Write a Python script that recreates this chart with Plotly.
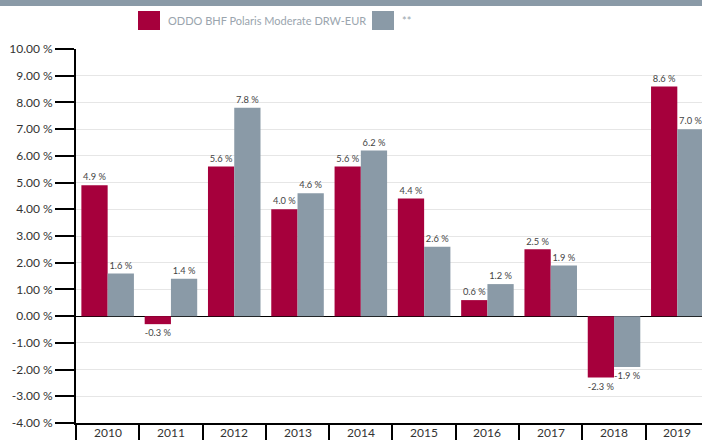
import plotly.graph_objects as go

years = ["2010", "2011", "2012", "2013", "2014", "2015", "2016", "2017", "2018", "2019"]
fund = [4.9, -0.3, 5.6, 4.0, 5.6, 4.4, 0.6, 2.5, -2.3, 8.6]
bench = [1.6, 1.4, 7.8, 4.6, 6.2, 2.6, 1.2, 1.9, -1.9, 7.0]
series_names = ["ODDO BHF Polaris Moderate DRW-EUR", "**"]
colors = ["#a6003c", "#8a9aa7"]
ytick_vals = [-4, -3, -2, -1, 0, 1, 2, 3, 4, 5, 6, 7, 8, 9, 10]

W, H = 702, 440
ML, MT, MB = 76, 49, 17

fig = go.Figure()
for name, vals, col in zip(series_names, [fund, bench], colors):
    fig.add_trace(go.Bar(
        x=years, y=vals, name=name, marker=dict(color=col, line=dict(width=0)),
        text=[f"{v:.1f} %" for v in vals], textposition="outside",
        textfont=dict(size=10, color="#444", family="Lato"),
        cliponaxis=False, showlegend=False,
    ))

fig.update_layout(
    width=W, height=H, margin=dict(l=ML, r=0, t=MT, b=MB),
    paper_bgcolor="white", plot_bgcolor="white",
    barmode="group", bargap=0.17, bargroupgap=0,
    font=dict(family="Lato", color="#333"),
    uniformtext=dict(minsize=9, mode="show"),
)
fig.update_yaxes(
    range=[-4, 10], tickvals=ytick_vals,
    ticktext=[f"{v:.2f} %" for v in ytick_vals],
    ticks="outside", ticklen=19, tickwidth=2, tickcolor="black",
    showline=True, linecolor="black", linewidth=2,
    showgrid=True, gridcolor="#e6e6e6", gridwidth=1,
    zeroline=True, zerolinecolor="black", zerolinewidth=1,
    tickfont=dict(size=12, color="#333", family="Lato"),
)
fig.update_xaxes(
    range=[-0.5, 9.39], type="category",
    ticks="outside", tickson="boundaries", ticklen=MB, tickwidth=2, tickcolor="black",
    showline=True, linecolor="black", linewidth=2, showticklabels=False,
    showgrid=False,
)

def px_x(px):
    return (px - ML) / (W - ML)

def px_y(py):
    return 1 - (py - MT) / (H - MT - MB)

for i, y in enumerate(years):
    fig.add_annotation(x=i, y=px_y(432), xref="x", yref="paper", yanchor="middle",
                       text=y, showarrow=False, font=dict(size=12, color="#333", family="Lato"))

# top band
fig.add_shape(type="rect", xref="paper", yref="paper", x0=px_x(-2), x1=px_x(W + 2),
              y0=px_y(6), y1=px_y(-2), fillcolor="#8a9aa7", line=dict(width=0))

# legend drawn manually
leg_x = [138, 372]
for i, (name, col) in enumerate(zip(series_names, colors)):
    fig.add_shape(type="rect", xref="paper", yref="paper",
                  x0=px_x(leg_x[i]), x1=px_x(leg_x[i] + 22), y0=px_y(30), y1=px_y(11),
                  fillcolor=col, line=dict(width=0))
    fig.add_annotation(x=px_x(leg_x[i] + 28), y=px_y(21), xref="paper", yref="paper",
                       xanchor="left", yanchor="middle", text=name, showarrow=False,
                       font=dict(size=11, color="#9aa5ae", family="Lato"))

fig.write_html("out.html", config={"displayModeBar": False},
               post_script="document.body.style.margin='0';document.body.style.padding='0';")
